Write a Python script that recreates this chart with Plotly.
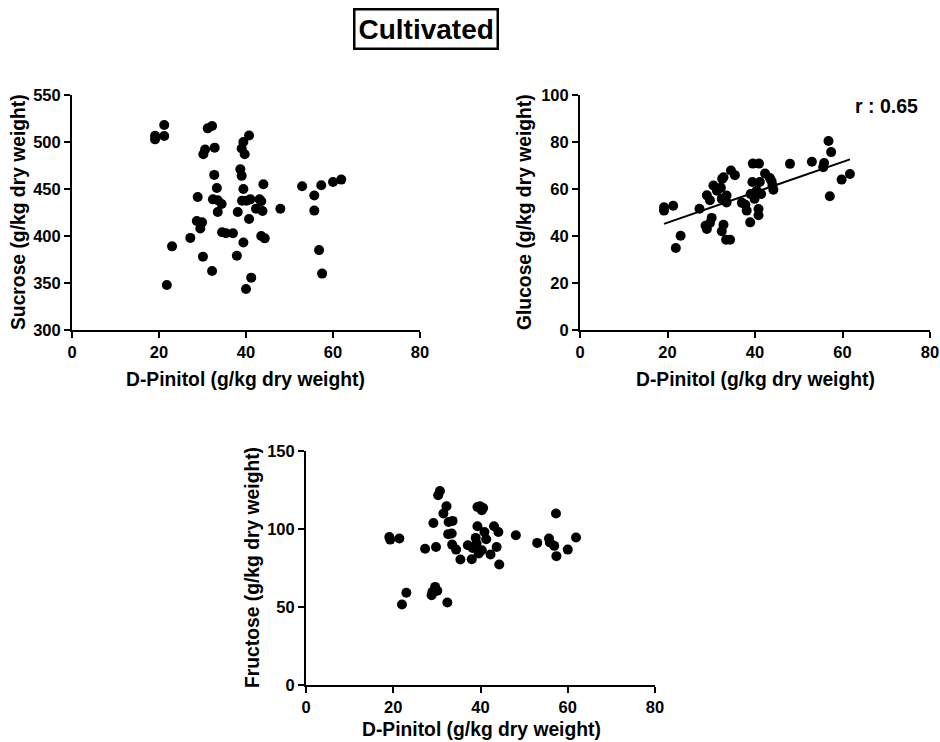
import plotly.graph_objects as go
import numpy as np

# Sucrose vs D-Pinitol
suc_x = [19.1, 19.1, 21.2, 21.2, 21.8, 23.0, 27.2, 28.9, 28.7, 29.9, 29.5, 30.1, 30.2, 30.6, 31.2,
         32.2, 32.8, 32.7, 32.2, 32.4, 33.3, 33.5, 34.4, 33.5, 34.5, 35.4, 37.0, 37.9, 38.1, 38.7,
         39.0, 39.0, 39.4, 39.7, 40.7, 39.4, 39.1, 40.1, 41.0, 40.7, 39.4, 40.0, 41.2, 42.3, 43.1,
         43.5, 43.8, 44.0, 43.5, 44.3, 47.9, 52.9, 55.7, 55.7, 56.8, 57.3, 57.5, 60.0, 61.9]
suc_y = [506.7, 502.8, 518, 506.4, 347.9, 389, 398, 441.5, 416, 414.5, 408, 378, 487, 492, 514.5,
         517, 494, 465, 362.8, 439, 451, 438, 434, 425.5, 404, 403, 403, 379, 425.5, 471,
         464, 493, 500, 487, 507, 450, 437.6, 437.6, 439, 418, 393, 343.6, 355.7, 429, 439,
         437, 426.6, 455, 400, 397.5, 429, 453, 443, 427, 385, 454, 360, 457.5, 460]

# Glucose vs D-Pinitol
glu_x = [19.2, 19.2, 21.3, 21.9, 23.0, 27.3, 29.0, 28.7, 29.0, 29.7, 30.1, 29.7, 30.5, 31.3, 32.2,
         32.5, 32.8, 32.4, 33.5, 33.5, 32.4, 32.8, 33.4, 34.3, 34.5, 35.4, 37.0, 37.8, 38.1, 38.9,
         39.0, 39.4, 39.5, 39.9, 40.4, 40.8, 40.8, 40.9, 41.1, 41.4, 42.3, 43.4, 43.8, 44.2, 44.0,
         48.0, 53.0, 55.6, 55.8, 56.8, 57.4, 57.1, 59.8, 61.7]
glu_y = [52.2, 50.8, 52.9, 34.9, 40.1, 51.6, 57.3, 44.4, 43.0, 45.5, 47.7, 55.2, 61.5, 59.3, 60.5,
         64.3, 65.0, 55.8, 57.2, 54.3, 42.0, 44.8, 38.4, 38.4, 67.9, 65.9, 54.1, 53.3, 50.8, 45.8,
         57.9, 63.0, 70.8, 55.8, 59.3, 48.8, 51.5, 70.8, 63.0, 57.9, 66.6, 64.7, 63.3, 59.7, 61.5,
         70.7, 71.6, 69.3, 71.1, 80.4, 75.7, 56.9, 64.0, 66.4]
glu_fit_slope = 0.645
glu_fit_intercept = 32.8
glu_r_label = "r : 0.65"

# Fructose vs D-Pinitol
fru_x = [19.1, 19.3, 21.4, 22.0, 23.0, 27.3, 29.2, 29.8, 28.8, 29.0, 29.6, 30.1, 30.3, 30.7, 31.5,
         32.2, 32.4, 32.7, 33.6, 32.6, 33.4, 33.5, 34.4, 35.4, 37.1, 38.0, 38.2, 38.9, 39.1, 39.3,
         39.3, 39.9, 40.3, 40.6, 39.6, 40.3, 40.9, 41.3, 42.3, 43.1, 43.7, 44.1, 44.3, 48.1, 53.0,
         55.7, 55.9, 56.9, 57.3, 57.4, 60.0, 61.9]
fru_y = [94.9, 93.2, 93.9, 51.6, 59.1, 87.3, 103.9, 88.5, 57.6, 59.7, 62.9, 60.4, 121.6, 124.4, 109.9,
         114.6, 52.9, 104.5, 105.2, 96.7, 97.1, 90.0, 86.8, 80.4, 89.6, 80.6, 87.9, 94.3, 90.7, 101.8,
         114.1, 114.6, 112.0, 113.5, 84.3, 86.4, 98.1, 93.4, 83.6, 101.8, 88.5, 98.1, 77.2, 96.0, 91.1,
         93.9, 91.3, 89.2, 109.9, 82.6, 86.8, 94.5]

x_ticks = [0, 20, 40, 60, 80]
suc_ticks = [300, 350, 400, 450, 500, 550]
glu_ticks = [0, 20, 40, 60, 80, 100]
fru_ticks = [0, 50, 100, 150]

W, H = 940, 742
FONT = "Liberation Sans, Arial, sans-serif"

def px(x):
    return x / W

def py(y):
    return 1 - y / H

fig = go.Figure()

marker = dict(color="black", size=10, line=dict(width=0))
fig.add_trace(go.Scatter(x=suc_x, y=suc_y, mode="markers", marker=marker, xaxis="x", yaxis="y"))
fig.add_trace(go.Scatter(x=glu_x, y=glu_y, mode="markers", marker=marker, xaxis="x2", yaxis="y2"))
fx = np.array([min(glu_x), max(glu_x)])
fig.add_trace(go.Scatter(x=fx, y=glu_fit_slope * fx + glu_fit_intercept, mode="lines",
                         line=dict(color="black", width=2), xaxis="x2", yaxis="y2"))
fig.add_trace(go.Scatter(x=fru_x, y=fru_y, mode="markers", marker=marker, xaxis="x3", yaxis="y3"))

tickfont = dict(family=FONT, size=16.5, color="black", weight="bold")
common = dict(showline=True, linecolor="black", linewidth=2, ticks="outside", ticklen=6,
              tickwidth=2, tickcolor="black", showgrid=False, zeroline=False,
              tickfont=tickfont, fixedrange=True, automargin=False)

domains = {
    "1": dict(x=[px(72), px(420)], y=[py(330), py(95)]),
    "2": dict(x=[px(580), px(930)], y=[py(330), py(95)]),
    "3": dict(x=[px(306), px(655)], y=[py(685), py(451)]),
}

layout = dict(
    width=W, height=H, autosize=False,
    margin=dict(l=0, r=0, t=0, b=0),
    paper_bgcolor="white", plot_bgcolor="white",
    showlegend=False,
)
yranges = {"1": ([300, 550], suc_ticks), "2": ([0, 100], glu_ticks), "3": ([0, 150], fru_ticks)}
for k in ["1", "2", "3"]:
    xn = "xaxis" if k == "1" else f"xaxis{k}"
    yn = "yaxis" if k == "1" else f"yaxis{k}"
    ya = "y" if k == "1" else f"y{k}"
    xa = "x" if k == "1" else f"x{k}"
    layout[xn] = dict(domain=domains[k]["x"], range=[0, 80], tickvals=x_ticks, anchor=ya, **common)
    layout[yn] = dict(domain=domains[k]["y"], range=yranges[k][0], tickvals=yranges[k][1],
                      anchor=xa, **common)
fig.update_layout(**layout)

title_font = dict(family=FONT, size=19.3, color="black", weight="bold")
ann = []
def add_text(text, x, y, rot=0, font=title_font, **kw):
    ann.append(dict(text=text, x=px(x), y=py(y), xref="paper", yref="paper", showarrow=False,
                    textangle=rot, font=font, xanchor="center", yanchor="middle", **kw))

xt = "D-Pinitol (g/kg dry weight)"
add_text(xt, 245, 379)
add_text(xt, 755, 379)
add_text(xt, 481, 729)
add_text("Sucrose (g/kg dry weight)", 18, 212, rot=-90)
add_text("Glucose (g/kg dry weight)", 524, 212, rot=-90)
add_text("Fructose (g/kg dry weight)", 252, 568, rot=-90)
add_text(glu_r_label, 886, 106, font=dict(family=FONT, size=19.5, color="black", weight="bold"))
add_text("Cultivated", 426, 29, font=dict(family=FONT, size=28, color="black", weight="bold"),
         bordercolor="black", borderwidth=2.5, borderpad=3, bgcolor="white")
fig.update_layout(annotations=ann)

fig.write_html("out.html", config={"displayModeBar": False},
               post_script="document.body.style.margin='0';")
